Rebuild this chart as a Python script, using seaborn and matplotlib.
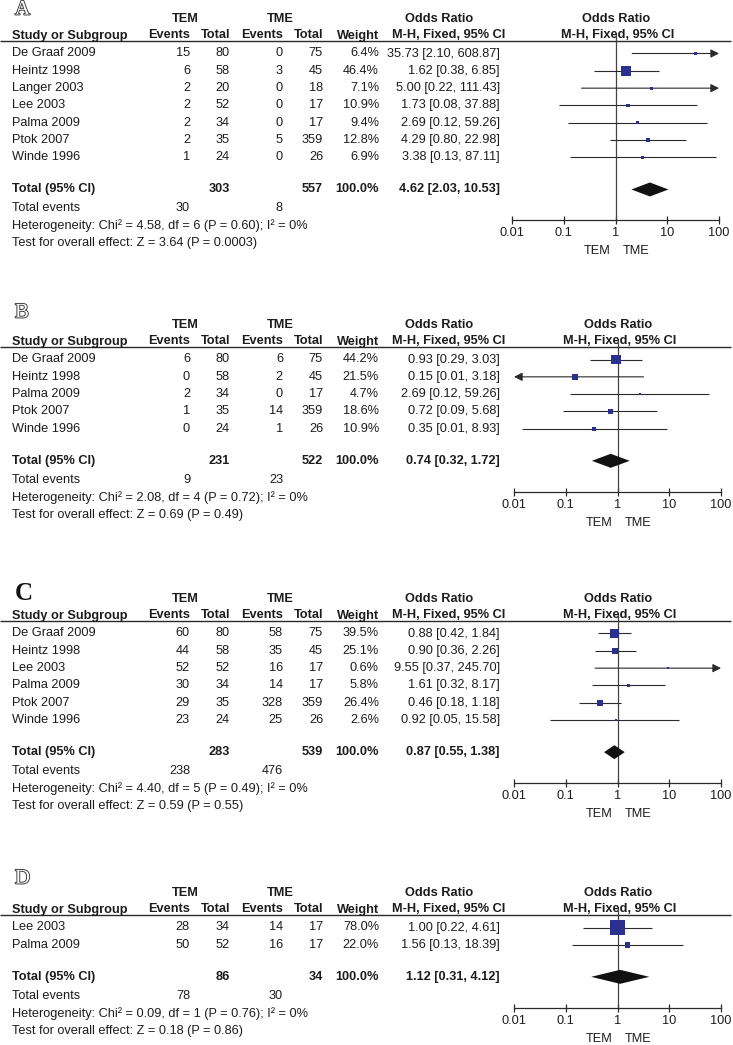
import numpy as np
import matplotlib
matplotlib.use("Agg")
import matplotlib.pyplot as plt
import matplotlib.patheffects as pe
from matplotlib.ticker import NullLocator
import seaborn as sns

# ---------------- data ----------------
tick_values = [0.01, 0.1, 1, 10, 100]
tick_labels = ["0.01", "0.1", "1", "10", "100"]
group_labels = ["TEM", "TME"]

studies_A = ["De Graaf 2009", "Heintz 1998", "Langer 2003", "Lee 2003", "Palma 2009", "Ptok 2007", "Winde 1996"]
tem_ev_A = [15, 6, 2, 2, 2, 2, 1]
tem_tot_A = [80, 58, 20, 52, 34, 35, 24]
tme_ev_A = [0, 3, 0, 0, 0, 5, 0]
tme_tot_A = [75, 45, 18, 17, 17, 359, 26]
weight_A = [6.4, 46.4, 7.1, 10.9, 9.4, 12.8, 6.9]
or_A = [35.73, 1.62, 5.00, 1.73, 2.69, 4.29, 3.38]
lo_A = [2.10, 0.38, 0.22, 0.08, 0.12, 0.80, 0.13]
hi_A = [608.87, 6.85, 111.43, 37.88, 59.26, 22.98, 87.11]
total_A = [303, 557, 4.62, 2.03, 10.53, 30, 8]
het_A = "Heterogeneity: Chi² = 4.58, df = 6 (P = 0.60); I² = 0%"
test_A = "Test for overall effect: Z = 3.64 (P = 0.0003)"

studies_B = ["De Graaf 2009", "Heintz 1998", "Palma 2009", "Ptok 2007", "Winde 1996"]
tem_ev_B = [6, 0, 2, 1, 0]
tem_tot_B = [80, 58, 34, 35, 24]
tme_ev_B = [6, 2, 0, 14, 1]
tme_tot_B = [75, 45, 17, 359, 26]
weight_B = [44.2, 21.5, 4.7, 18.6, 10.9]
or_B = [0.93, 0.15, 2.69, 0.72, 0.35]
lo_B = [0.29, 0.007, 0.12, 0.09, 0.0145]
hi_B = [3.03, 3.18, 59.26, 5.68, 8.93]
total_B = [231, 522, 0.74, 0.32, 1.72, 9, 23]
het_B = "Heterogeneity: Chi² = 2.08, df = 4 (P = 0.72); I² = 0%"
test_B = "Test for overall effect: Z = 0.69 (P = 0.49)"

studies_C = ["De Graaf 2009", "Heintz 1998", "Lee 2003", "Palma 2009", "Ptok 2007", "Winde 1996"]
tem_ev_C = [60, 44, 52, 30, 29, 23]
tem_tot_C = [80, 58, 52, 34, 35, 24]
tme_ev_C = [58, 35, 16, 14, 328, 25]
tme_tot_C = [75, 45, 17, 17, 359, 26]
weight_C = [39.5, 25.1, 0.6, 5.8, 26.4, 2.6]
or_C = [0.88, 0.90, 9.55, 1.61, 0.46, 0.92]
lo_C = [0.42, 0.36, 0.37, 0.32, 0.18, 0.05]
hi_C = [1.84, 2.26, 245.70, 8.17, 1.18, 15.58]
total_C = [283, 539, 0.87, 0.55, 1.38, 238, 476]
het_C = "Heterogeneity: Chi² = 4.40, df = 5 (P = 0.49); I² = 0%"
test_C = "Test for overall effect: Z = 0.59 (P = 0.55)"

studies_D = ["Lee 2003", "Palma 2009"]
tem_ev_D = [28, 50]
tem_tot_D = [34, 52]
tme_ev_D = [14, 16]
tme_tot_D = [17, 17]
weight_D = [78.0, 22.0]
or_D = [1.00, 1.56]
lo_D = [0.22, 0.13]
hi_D = [4.61, 18.39]
total_D = [86, 34, 1.12, 0.31, 4.12, 78, 30]
het_D = "Heterogeneity: Chi² = 0.09, df = 1 (P = 0.76); I² = 0%"
test_D = "Test for overall effect: Z = 0.18 (P = 0.86)"

# ---------------- style ----------------
sns.set_style("white")
plt.rcParams["font.family"] = ["Liberation Sans", "DejaVu Sans"]

W, H = 733, 1045
fig = plt.figure(figsize=(W / 100, H / 100), dpi=100)
tax = fig.add_axes([0, 0, 1, 1])
tax.set_xlim(0, W)
tax.set_ylim(H, 0)
tax.axis("off")

FS = 9.2
TXT = "#1c1c1c"
BLUE = "#2b2f8e"
LINE = "#2a2a2a"
PITCH = 17.33
COLS = [190, 230, 283, 323, 379, 500]
X0_PX, X1_PX = 512, 719


def t(x, y, s, ha="left", va="center", bold=False, **kw):
    tax.text(x, y, s, ha=ha, va=va, fontsize=FS, color=TXT,
             fontweight="bold" if bold else "normal", **kw)


panels = [
    dict(letter="A", line=41, dx=0, ldy=-31, outline=True,
         st=studies_A, e1=tem_ev_A, n1=tem_tot_A, e2=tme_ev_A, n2=tme_tot_A,
         w=weight_A, o=or_A, lo=lo_A, hi=hi_A, tot=total_A, het=het_A, test=test_A),
    dict(letter="B", line=347, dx=2, ldy=-34, outline=True,
         st=studies_B, e1=tem_ev_B, n1=tem_tot_B, e2=tme_ev_B, n2=tme_tot_B,
         w=weight_B, o=or_B, lo=lo_B, hi=hi_B, tot=total_B, het=het_B, test=test_B),
    dict(letter="C", line=621, dx=2, ldy=-27, outline=False,
         st=studies_C, e1=tem_ev_C, n1=tem_tot_C, e2=tme_ev_C, n2=tme_tot_C,
         w=weight_C, o=or_C, lo=lo_C, hi=hi_C, tot=total_C, het=het_C, test=test_C),
    dict(letter="D", line=915, dx=2, ldy=-36, outline=True,
         st=studies_D, e1=tem_ev_D, n1=tem_tot_D, e2=tme_ev_D, n2=tme_tot_D,
         w=weight_D, o=or_D, lo=lo_D, hi=hi_D, tot=total_D, het=het_D, test=test_D),
]

for P in panels:
    L = P["line"]
    dx = P["dx"]
    n = len(P["st"])
    rows = L + 12.5 + np.arange(n) * PITCH
    y_tot = rows[-1] + 32
    y_ev = y_tot + 19
    y_het = y_ev + 17.5
    y_test = y_het + 17.5
    y_axis = y_tot + 31

    # panel letter
    if P["outline"]:
        tax.text(15, L + P["ldy"], P["letter"], ha="left", va="center",
                 fontsize=15, family="Liberation Serif", color="white",
                 path_effects=[pe.withStroke(linewidth=1.3, foreground="#333333")])
    else:
        tax.text(15, L + P["ldy"], P["letter"], ha="left", va="center",
                 fontsize=18, family="Liberation Serif", color="#111111",
                 fontweight="bold")

    # headers
    yh1 = L - 22
    t(185, yh1, group_labels[0], ha="center", bold=True)
    t(280, yh1, group_labels[1], ha="center", bold=True)
    t(439, yh1, "Odds Ratio", ha="center", bold=True)
    t(616 + dx, yh1, "Odds Ratio", ha="center", bold=True)
    yb = L - 2.5
    t(12, yb, "Study or Subgroup", va="baseline", bold=True)
    for x, s in zip(COLS[:5], ["Events", "Total", "Events", "Total", "Weight"]):
        t(x, yb, s, ha="right", va="baseline", bold=True)
    t(449, yb, "M-H, Fixed, 95% CI", ha="center", va="baseline", bold=True)
    t(618 + dx, yb, "M-H, Fixed, 95% CI", ha="center", va="baseline", bold=True)
    tax.plot([0, 731], [L, L], color=LINE, lw=1.0, solid_capstyle="butt")

    # study rows
    for i in range(n):
        y = rows[i]
        t(12, y, P["st"][i])
        vals = [str(P["e1"][i]), str(P["n1"][i]), str(P["e2"][i]), str(P["n2"][i]),
                f"{P['w'][i]:.1f}%",
                f"{P['o'][i]:.2f} [{P['lo'][i]:.2f}, {P['hi'][i]:.2f}]"]
        for x, s in zip(COLS, vals):
            t(x, y, s, ha="right")

    # totals
    tt = P["tot"]
    t(12, y_tot, "Total (95% CI)", bold=True)
    t(COLS[1], y_tot, str(tt[0]), ha="right", bold=True)
    t(COLS[3], y_tot, str(tt[1]), ha="right", bold=True)
    t(COLS[4], y_tot, "100.0%", ha="right", bold=True)
    t(COLS[5], y_tot, f"{tt[2]:.2f} [{tt[3]:.2f}, {tt[4]:.2f}]", ha="right", bold=True)
    t(12, y_ev, "Total events")
    t(COLS[0], y_ev, str(tt[5]), ha="right")
    t(COLS[2], y_ev, str(tt[6]), ha="right")
    t(12, y_het, P["het"])
    t(12, y_test, P["test"])

    # forest axes (y in pixel units)
    top = L - 6
    ax = fig.add_axes([(X0_PX + dx) / W, 1 - y_axis / H,
                       (X1_PX - X0_PX) / W, (y_axis - top) / H])
    ax.set_facecolor("none")
    ax.set_xscale("log")
    ax.set_xlim(tick_values[0], tick_values[-1])
    ax.set_ylim(y_axis, top)
    for sp in ["top", "left", "right"]:
        ax.spines[sp].set_visible(False)
    ax.spines["bottom"].set_color(LINE)
    ax.spines["bottom"].set_linewidth(0.9)
    ax.set_xticks(tick_values)
    ax.set_xticklabels(tick_labels)
    ax.xaxis.set_minor_locator(NullLocator())
    ax.tick_params(axis="x", bottom=True, direction="inout", length=6, width=0.9,
                   color=LINE, labelcolor=TXT, labelsize=FS, pad=2)
    ax.tick_params(axis="y", left=False, labelleft=False)
    ax.grid(False)

    ax.axvline(1, color="#444444", lw=0.9, zorder=1)

    xmin, xmax = tick_values[0], tick_values[-1]
    for i in range(n):
        y = rows[i]
        lo, hi = P["lo"][i], P["hi"][i]
        if hi > xmax:
            ax.annotate("", xy=(xmax, y), xytext=(max(lo, xmin), y),
                        arrowprops=dict(arrowstyle="-|>,head_length=0.55,head_width=0.28",
                                        color=LINE, lw=0.8, shrinkA=0, shrinkB=0,
                                        mutation_scale=9),
                        annotation_clip=False)
        elif lo < xmin:
            ax.annotate("", xy=(xmin, y), xytext=(min(hi, xmax), y),
                        arrowprops=dict(arrowstyle="-|>,head_length=0.55,head_width=0.28",
                                        color=LINE, lw=0.8, shrinkA=0, shrinkB=0,
                                        mutation_scale=9),
                        annotation_clip=False)
        else:
            ax.hlines(y, lo, hi, color=LINE, lw=0.8, zorder=2)

    side_pt = (1.6 + 0.18 * np.array(P["w"])) * 0.72
    sns.scatterplot(x=P["o"], y=rows, s=side_pt ** 2, marker="s", color=BLUE,
                    linewidth=0, legend=False, ax=ax, zorder=3, clip_on=False)
    ax.set_xlabel("")
    ax.set_ylabel("")

    # pooled diamond
    o, l, h = tt[2], tt[3], tt[4]
    ax.fill([l, o, h, o], [y_tot, y_tot - 7, y_tot, y_tot + 7], color="#111111",
            zorder=4, lw=0)

    # favours labels
    xc = 617.5 if dx else 615.5
    t(xc - 5, y_axis + 31, group_labels[0], ha="right")
    t(xc + 7, y_axis + 31, group_labels[1], ha="left")

fig.savefig("out.png", dpi=100)
